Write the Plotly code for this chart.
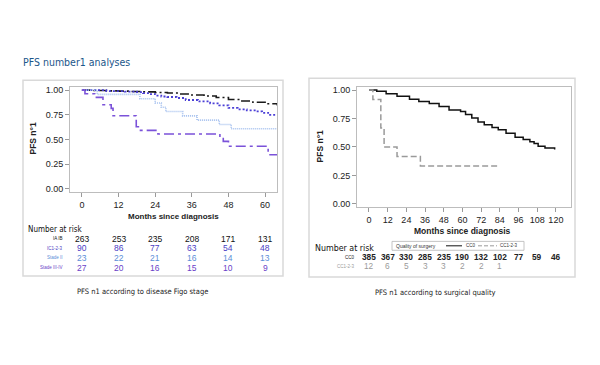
import plotly.graph_objects as go

# ---------------- data ----------------
# Left panel: PFS by FIGO stage (Kaplan-Meier steps)
stage_names = ["IA IB", "IC1-2-3", "Stade II", "Stade III-IV"]
t_iaib = [0, 4, 8, 12, 16, 20, 24, 28, 32, 36, 40, 44, 48, 52, 56, 60, 64]
s_iaib = [1, 0.996, 0.992, 0.99, 0.986, 0.982, 0.976, 0.97, 0.96, 0.95, 0.94, 0.925, 0.905, 0.89, 0.877, 0.862, 0.845]
t_ic = [0, 8, 14, 18, 20, 22, 24, 26, 28, 31, 34, 38, 42, 45, 48, 51, 54, 57, 59, 61, 63]
s_ic = [1, 0.99, 0.985, 0.98, 0.97, 0.96, 0.945, 0.935, 0.93, 0.92, 0.9, 0.885, 0.865, 0.845, 0.82, 0.805, 0.795, 0.785, 0.77, 0.75, 0.72]
t_ii = [0, 5, 19, 24, 26, 27.5, 33, 37.7, 45, 48.9, 64]
s_ii = [1, 0.957, 0.913, 0.87, 0.826, 0.783, 0.739, 0.696, 0.652, 0.609, 0.609]
t_iii = [0, 1, 4.2, 6.9, 9.6, 10.2, 17.8, 18.5, 24.9, 45.2, 46.3, 48, 61, 64]
s_iii = [1, 0.963, 0.926, 0.852, 0.815, 0.741, 0.63, 0.593, 0.556, 0.519, 0.481, 0.432, 0.346, 0.346]

risk_times_left = [0, 12, 24, 36, 48, 60]
risk_iaib = [263, 253, 235, 208, 171, 131]
risk_ic = [90, 86, 77, 63, 54, 48]
risk_ii = [23, 22, 21, 16, 14, 13]
risk_iii = [27, 20, 16, 15, 10, 9]

# Right panel: PFS by surgical quality
surgery_names = ["CC0", "CC1-2-3"]
t_cc0 = [0, 5, 11, 18, 26, 32, 38.7, 45, 51.4, 58.8, 62, 66, 70, 74, 79, 83, 88, 93.8, 99, 103.3, 106, 108.6, 113, 119.2]
s_cc0 = [1, 0.99, 0.968, 0.945, 0.919, 0.9, 0.881, 0.855, 0.826, 0.811, 0.785, 0.754, 0.72, 0.695, 0.67, 0.652, 0.62, 0.585, 0.565, 0.545, 0.53, 0.507, 0.49, 0.478]
t_cc123 = [0, 2.5, 7.6, 9.7, 18, 33, 84]
s_cc123 = [1, 0.917, 0.667, 0.5, 0.417, 0.333, 0.333]

risk_times_right = [0, 12, 24, 36, 48, 60, 72, 84, 96, 108, 120]
risk_cc0 = [385, 367, 330, 285, 235, 190, 132, 102, 77, 59, 46]
risk_cc123 = [12, 6, 5, 3, 3, 2, 2, 1]

y_ticks = [0, 0.25, 0.5, 0.75, 1.0]
x_ticks_left = [0, 12, 24, 36, 48, 60]
x_ticks_right = [0, 12, 24, 36, 48, 60, 72, 84, 96, 108, 120]

# ---------------- styles ----------------
OFF = 8  # page body margin
W, H = 600 - OFF, 365 - OFF
FONT = "Liberation Sans, Arial, sans-serif"
COND = "DejaVu Sans Condensed, Liberation Sans Narrow, Liberation Sans, Arial, sans-serif"
C_IAIB = "#1a1a1a"
C_IC = "#4b3fd6"
C_II = "#a3bfee"
C_III = "#7b52d9"
C_IC_TXT = "#4a3cc4"
C_II_TXT = "#5b8ed8"
C_III_TXT = "#6a3fc8"
C_CC0 = "#111111"
C_CC1 = "#9a9a9a"

def px(x):
    return (x - OFF) / W

def py(y):
    return 1 - (y - OFF) / H

fig = go.Figure()

left_series = [
    (t_iaib, s_iaib, C_IAIB, "9px,3px,2px,3px", 1.6),
    (t_ic, s_ic, C_IC, "2px,2px", 1.8),
    (t_ii, s_ii, C_II, "1px,1px", 1.6),
    (t_iii, s_iii, C_III, "10px,4px,3px,4px", 1.6),
]
for (t, s, c, d, w), name in zip(left_series, stage_names):
    fig.add_trace(go.Scatter(x=t, y=s, mode="lines", line=dict(color=c, dash=d, width=w, shape="hv"),
                             name=name, showlegend=False, xaxis="x", yaxis="y"))

right_series = [
    (t_cc0, s_cc0, C_CC0, "solid", 1.5),
    (t_cc123, s_cc123, C_CC1, "6px,3px", 1.5),
]
for (t, s, c, d, w), name in zip(right_series, surgery_names):
    fig.add_trace(go.Scatter(x=t, y=s, mode="lines", line=dict(color=c, dash=d, width=w, shape="hv"),
                             name=name, showlegend=False, xaxis="x2", yaxis="y2"))

axis_common = dict(showline=True, linecolor="#bdbdbd", linewidth=1, mirror=True, showgrid=False,
                   zeroline=False, ticks="outside", ticklen=4, tickcolor="#9a9a9a",
                   tickfont=dict(family=FONT, size=9, color="#222"))

fig.update_layout(
    width=W, height=H, margin=dict(l=0, r=0, t=0, b=0),
    paper_bgcolor="white", plot_bgcolor="white", showlegend=False,
    xaxis=dict(domain=[px(70), px(277)], range=[-3.9, 63.9], tickvals=x_ticks_left, anchor="y", **axis_common),
    yaxis=dict(domain=[py(192), py(86)], range=[-0.03, 1.03], tickvals=y_ticks,
               ticktext=[f"{v:.2f}" for v in y_ticks], anchor="x", **axis_common),
    xaxis2=dict(domain=[px(357), px(571)], range=[-7.7, 129.7], tickvals=x_ticks_right, anchor="y2", **axis_common),
    yaxis2=dict(domain=[py(207), py(86)], range=[-0.026, 1.026], tickvals=y_ticks,
                ticktext=[f"{v:.2f}" for v in y_ticks], anchor="x2", **axis_common),
)

shapes = []
# panel boxes
shapes.append(dict(type="rect", xref="paper", yref="paper", x0=px(23), x1=px(283), y0=py(277), y1=py(79),
                   line=dict(color="#d9d9d9", width=1.5), layer="below"))
shapes.append(dict(type="rect", xref="paper", yref="paper", x0=px(309), x1=px(575), y0=py(278), y1=py(77),
                   line=dict(color="#d9d9d9", width=1.5), layer="below"))
# manual legend for right panel
shapes.append(dict(type="rect", xref="paper", yref="paper", x0=px(392), x1=px(524), y0=py(251), y1=py(242),
                   line=dict(color="#b5b5b5", width=0.8)))
shapes.append(dict(type="line", xref="paper", yref="paper", x0=px(446), x1=px(462), y0=py(246.5), y1=py(246.5),
                   line=dict(color=C_CC0, width=1)))
shapes.append(dict(type="line", xref="paper", yref="paper", x0=px(478), x1=px(497), y0=py(246.5), y1=py(246.5),
                   line=dict(color=C_CC1, width=1, dash="4px,2px")))
fig.update_layout(shapes=shapes)

ann = []

def text(x, y, s, size, color="#222", xanchor="center", bold=False, family=FONT, angle=0, xref="paper"):
    if bold:
        s = f"<b>{s}</b>"
    ann.append(dict(x=x, y=y, xref=xref, yref="paper", text=s, showarrow=False, xanchor=xanchor,
                    yanchor="middle", textangle=angle, borderpad=0,
                    font=dict(family=family, size=size, color=color)))

# title
text(px(22), py(61), "PFS number1 analyses", 10.5, color="#1b568a", xanchor="left", family=COND)
# axis titles
text(px(33), py(138), "PFS n°1", 8.5, bold=True, angle=-90)
text(px(320), py(146), "PFS n°1", 8.5, bold=True, angle=-90)
text(px(173), py(217), "Months since diagnosis", 8, bold=True)
text(px(463), py(232), "Months since diagnosis", 8.5, bold=True)

# left number at risk
text(px(27), py(229.5), "Number at risk", 8, color="#111", xanchor="left", family=COND)
left_rows = [
    (stage_names[0], risk_iaib, "#111", 239.5),
    (stage_names[1], risk_ic, C_IC_TXT, 249),
    (stage_names[2], risk_ii, C_II_TXT, 258.7),
    (stage_names[3], risk_iii, C_III_TXT, 268.7),
]
for name, vals, col, yy in left_rows:
    text(px(64), py(yy), name, 4.5, color=col, xanchor="right")
    for t, v in zip(risk_times_left, vals):
        text(t, py(yy), str(v), 8.5, color=col, xref="x")

# right number at risk
text(px(314), py(248.8), "Number at risk", 8.8, color="#111", xanchor="left", family=COND)
right_rows = [
    (surgery_names[0], risk_cc0, "#222", 258.3, True),
    (surgery_names[1], risk_cc123, C_CC1, 267.3, False),
]
for name, vals, col, yy, b in right_rows:
    text(px(356), py(yy), name, 4.5, color=col, xanchor="right")
    for t, v in zip(risk_times_right, vals):
        text(t, py(yy), str(v), 8.3, color=col, xref="x2", bold=b)

# legend texts
text(px(395), py(246.5), "Quality of surgery", 5, color="#333", xanchor="left")
text(px(465), py(246.5), surgery_names[0], 4.5, color="#333", xanchor="left")
text(px(499), py(246.5), surgery_names[1], 4.5, color="#333", xanchor="left")

# captions
text(px(142), py(293), "PFS n1 according to disease Figo stage", 7.5, color="#222", family=COND)
text(px(435), py(294), "PFS n1 according to surgical quality", 7.5, color="#222", family=COND)

fig.update_layout(annotations=ann)
fig.write_html("out.html")
